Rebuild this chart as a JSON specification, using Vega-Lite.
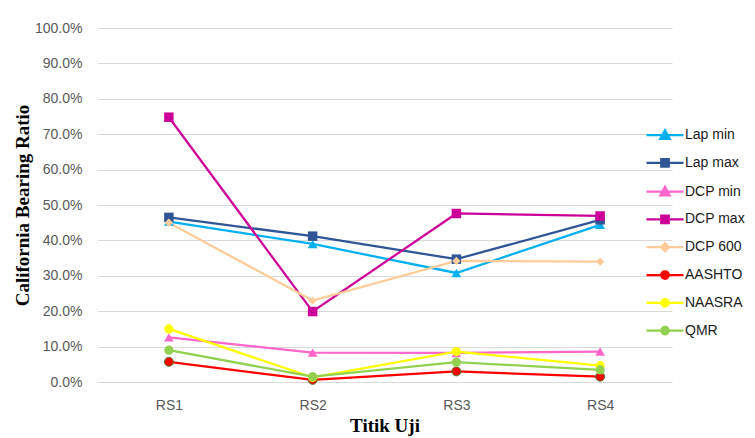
{
  "$schema": "https://vega.github.io/schema/vega-lite/v6.json",
  "width": 575,
  "height": 354,
  "autosize": {"type": "none"},
  "padding": {"left": 97, "top": 28, "right": 83, "bottom": 56},
  "background": "white",
  "config": {"view": {"stroke": null}, "font": "Liberation Sans"},
  "data": {"values": [
    {"series": "Lap min", "point": "RS1", "value": 0.453},
    {"series": "Lap min", "point": "RS2", "value": 0.390},
    {"series": "Lap min", "point": "RS3", "value": 0.308},
    {"series": "Lap min", "point": "RS4", "value": 0.444},
    {"series": "Lap max", "point": "RS1", "value": 0.465},
    {"series": "Lap max", "point": "RS2", "value": 0.412},
    {"series": "Lap max", "point": "RS3", "value": 0.347},
    {"series": "Lap max", "point": "RS4", "value": 0.458},
    {"series": "DCP min", "point": "RS1", "value": 0.126},
    {"series": "DCP min", "point": "RS2", "value": 0.083},
    {"series": "DCP min", "point": "RS3", "value": 0.082},
    {"series": "DCP min", "point": "RS4", "value": 0.086},
    {"series": "DCP max", "point": "RS1", "value": 0.748},
    {"series": "DCP max", "point": "RS2", "value": 0.199},
    {"series": "DCP max", "point": "RS3", "value": 0.476},
    {"series": "DCP max", "point": "RS4", "value": 0.469},
    {"series": "DCP 600", "point": "RS1", "value": 0.450},
    {"series": "DCP 600", "point": "RS2", "value": 0.230},
    {"series": "DCP 600", "point": "RS3", "value": 0.342},
    {"series": "DCP 600", "point": "RS4", "value": 0.340},
    {"series": "AASHTO", "point": "RS1", "value": 0.057},
    {"series": "AASHTO", "point": "RS2", "value": 0.006},
    {"series": "AASHTO", "point": "RS3", "value": 0.030},
    {"series": "AASHTO", "point": "RS4", "value": 0.015},
    {"series": "NAASRA", "point": "RS1", "value": 0.150},
    {"series": "NAASRA", "point": "RS2", "value": 0.013},
    {"series": "NAASRA", "point": "RS3", "value": 0.086},
    {"series": "NAASRA", "point": "RS4", "value": 0.046},
    {"series": "QMR", "point": "RS1", "value": 0.090},
    {"series": "QMR", "point": "RS2", "value": 0.015},
    {"series": "QMR", "point": "RS3", "value": 0.056},
    {"series": "QMR", "point": "RS4", "value": 0.034}
  ]},
  "encoding": {
    "x": {
      "field": "point", "type": "nominal", "sort": ["RS1", "RS2", "RS3", "RS4"],
      "scale": {"type": "point", "padding": 0.5},
      "axis": {
        "title": "Titik Uji", "labelAngle": 0, "ticks": false, "domain": false, "grid": false,
        "labelFont": "Liberation Sans", "labelFontSize": 14, "labelColor": "#595959", "labelPadding": 16,
        "titleFont": "Liberation Serif", "titleFontSize": 19, "titleFontWeight": "bold", "titleColor": "#000000", "titlePadding": 4
      }
    },
    "y": {
      "field": "value", "type": "quantitative",
      "scale": {"domain": [0, 1], "nice": false},
      "axis": {
        "title": "California Bearing Ratio", "format": ".1%", "values": [0, 0.1, 0.2, 0.3, 0.4, 0.5, 0.6, 0.7, 0.8, 0.9, 1.0],
        "ticks": false, "domain": false, "grid": true, "gridColor": "#D9D9D9", "gridWidth": 1,
        "labelFont": "Liberation Sans", "labelFontSize": 14, "labelColor": "#595959", "labelPadding": 15,
        "titleFont": "Liberation Serif", "titleFontSize": 19, "titleFontWeight": "bold", "titleColor": "#000000", "titlePadding": 2
      }
    },
    "color": {
      "field": "series", "type": "nominal",
      "scale": {
        "domain": ["Lap min", "Lap max", "DCP min", "DCP max", "DCP 600", "AASHTO", "NAASRA", "QMR"],
        "range": ["#00B0F0", "#2F5597", "#FF66CC", "#CC0099", "#FFCC99", "#FF0000", "#FFFF00", "#92D050"]
      },
      "legend": {
        "title": null, "orient": "none", "legendX": 561, "legendY": 100, "padding": 0,
        "symbolSize": 100, "symbolStrokeWidth": 2.25, "labelOffset": 13, "rowPadding": 9.8,
        "labelFont": "Liberation Sans", "labelFontSize": 14, "labelColor": "#1a1a1a"
      }
    }
  },
  "layer": [
    {"mark": {"type": "line", "strokeWidth": 2.25}},
    {
      "mark": {"type": "point", "filled": false, "size": 1, "opacity": 1},
      "encoding": {
        "shape": {
          "field": "series", "type": "nominal",
          "scale": {
            "domain": ["Lap min", "Lap max", "DCP min", "DCP max", "DCP 600", "AASHTO", "NAASRA", "QMR"],
            "range": [
              "M-3.7,0H3.7M0,-0.95L0.95,0.75L-0.95,0.75ZM0,-0.38L0.475,0.47L-0.475,0.47ZM0,0.1L0.1,0.25L-0.1,0.25Z",
              "M-3.7,0H3.7M-0.75,-0.75H0.75V0.75H-0.75ZM-0.35,-0.35H0.35V0.35H-0.35ZM-0.05,-0.05H0.05V0.05H-0.05Z",
              "M-3.7,0H3.7M0,-0.95L0.95,0.75L-0.95,0.75ZM0,-0.38L0.475,0.47L-0.475,0.47ZM0,0.1L0.1,0.25L-0.1,0.25Z",
              "M-3.7,0H3.7M-0.75,-0.75H0.75V0.75H-0.75ZM-0.35,-0.35H0.35V0.35H-0.35ZM-0.05,-0.05H0.05V0.05H-0.05Z",
              "M-3.7,0H3.7M0,-0.8L0.8,0L0,0.8L-0.8,0ZM0,-0.4L0.4,0L0,0.4L-0.4,0ZM0,-0.05L0.05,0L0,0.05L-0.05,0Z",
              "M-3.7,0H3.7M-0.75,0A0.75,0.75 0 1,0 0.75,0A0.75,0.75 0 1,0 -0.75,0ZM-0.35,0A0.35,0.35 0 1,0 0.35,0A0.35,0.35 0 1,0 -0.35,0ZM-0.05,0H0.05Z",
              "M-3.7,0H3.7M-0.75,0A0.75,0.75 0 1,0 0.75,0A0.75,0.75 0 1,0 -0.75,0ZM-0.35,0A0.35,0.35 0 1,0 0.35,0A0.35,0.35 0 1,0 -0.35,0ZM-0.05,0H0.05Z",
              "M-3.7,0H3.7M-0.75,0A0.75,0.75 0 1,0 0.75,0A0.75,0.75 0 1,0 -0.75,0ZM-0.35,0A0.35,0.35 0 1,0 0.35,0A0.35,0.35 0 1,0 -0.35,0ZM-0.05,0H0.05Z"
            ]
          },
          "legend": {
            "title": null, "orient": "none", "legendX": 561, "legendY": 100, "padding": 0,
            "symbolSize": 100, "symbolStrokeWidth": 2.25, "labelOffset": 13, "rowPadding": 9.8,
            "labelFont": "Liberation Sans", "labelFontSize": 14, "labelColor": "#1a1a1a"
          }
        }
      }
    },
    {
      "transform": [{"filter": {"field": "series", "oneOf": ["Lap min", "DCP min"]}}],
      "mark": {"type": "point", "shape": "triangle-up", "filled": true, "size": 95, "opacity": 1}
    },
    {
      "transform": [{"filter": {"field": "series", "oneOf": ["Lap max", "DCP max"]}}],
      "mark": {"type": "point", "shape": "square", "filled": true, "size": 90, "opacity": 1}
    },
    {
      "transform": [{"filter": {"field": "series", "oneOf": ["DCP 600"]}}],
      "mark": {"type": "point", "shape": "diamond", "filled": true, "size": 70, "opacity": 1}
    },
    {
      "transform": [{"filter": {"field": "series", "oneOf": ["AASHTO"]}}],
      "mark": {"type": "point", "shape": "circle", "filled": true, "size": 80, "opacity": 1, "stroke": "#4d7a2a", "strokeWidth": 1}
    },
    {
      "transform": [{"filter": {"field": "series", "oneOf": ["NAASRA", "QMR"]}}],
      "mark": {"type": "point", "shape": "circle", "filled": true, "size": 85, "opacity": 1}
    }
  ]
}
